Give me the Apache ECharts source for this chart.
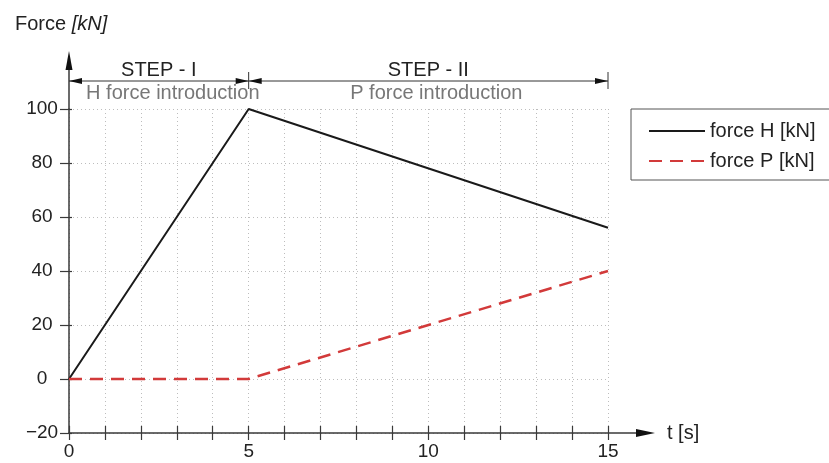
<!DOCTYPE html>
<html><head><meta charset="utf-8">
<script src="https://cdn.jsdelivr.net/npm/echarts@6/dist/echarts.min.js"></script>
<style>html,body{margin:0;padding:0;background:#fff}#c{width:829px;height:463px}</style>
</head><body><div id="c"></div>
<script>
const tValues = [0, 5, 15];
const forceH = [0, 100, 56];
const forceP = [0, 0, 40];
const stepBounds = [0, 5, 15];
const stepTitles = ['STEP - I', 'STEP - II'];
const stepSubtitles = ['H force introduction', 'P force introduction'];
const seriesNames = ['force H [kN]', 'force P [kN]'];

const FONT = '"Liberation Sans", Arial, sans-serif';
const AX = '#3a3a3a';
const subtitleShift = [14, 8];
const chart = echarts.init(document.getElementById('c'));

chart.setOption({
  animation: false,
  textStyle: { fontFamily: FONT },
  grid: { left: 69, top: 109, width: 539, height: 324 },
  legend: {
    orient: 'vertical', left: 631, top: 109,
    borderColor: '#555', borderWidth: 1,
    padding: [12, 40, 9, 17],
    itemWidth: 56, itemHeight: 14, itemGap: 10,
    itemStyle: { opacity: 0 },
    textStyle: { fontSize: 20, color: '#222', fontFamily: FONT },
    data: seriesNames
  },
  xAxis: [{
    type: 'value', min: 0, max: 15, interval: 1,
    axisLine: { show: true, onZero: false, lineStyle: { color: AX, width: 1.5 } },
    axisTick: { show: true, length: 7, lineStyle: { color: AX, width: 1.2 } },
    axisLabel: { fontSize: 19, color: '#222', margin: 9,
      formatter: v => (v % 5 === 0 ? String(v) : '') },
    splitLine: { show: true, lineStyle: { color: '#bdbdbd', type: [1, 3], width: 1 } }
  }, {
    type: 'value', min: 0, max: 15, interval: 1, position: 'bottom',
    axisLine: { show: false, onZero: false },
    axisTick: { show: true, inside: true, length: 7, lineStyle: { color: AX, width: 1.2 } },
    axisLabel: { show: false }, splitLine: { show: false }
  }],
  yAxis: [{
    type: 'value', min: -20, max: 100, interval: 20,
    axisLine: { show: true, lineStyle: { color: AX, width: 1.5 } },
    axisTick: { show: true, length: 9, lineStyle: { color: AX, width: 1.2 } },
    axisLabel: { fontSize: 19, color: '#222', margin: 27, align: 'center',
      formatter: v => (v < 0 ? '\u2212' + Math.abs(v) : String(v)) },
    splitLine: { show: true, lineStyle: { color: '#bdbdbd', type: [1, 3], width: 1 } }
  }, {
    type: 'value', min: -20, max: 100, interval: 20, position: 'left',
    axisLine: { show: false },
    axisTick: { show: true, inside: true, length: 3, lineStyle: { color: AX, width: 1.2 } },
    axisLabel: { show: false }, splitLine: { show: false }
  }],
  series: [{
    name: seriesNames[0], type: 'line', symbol: 'none',
    data: tValues.map((t, i) => [t, forceH[i]]),
    lineStyle: { color: '#1a1a1a', width: 2 }, itemStyle: { color: '#1a1a1a' }, z: 3
  }, {
    name: seriesNames[1], type: 'line', symbol: 'none',
    data: tValues.map((t, i) => [t, forceP[i]]),
    lineStyle: { color: '#d23a3a', width: 2.5, type: [13, 8] }, itemStyle: { color: '#d23a3a' }, z: 3
  }]
});

function px(x, y) { return chart.convertToPixel({ gridIndex: 0 }, [x, y]); }
const g = [];
const o = px(0, -20);
const topP = px(0, 100);
// y-axis extension with arrow
g.push({ type: 'line', shape: { x1: o[0], y1: topP[1], x2: o[0], y2: 66 }, style: { stroke: AX, lineWidth: 1.5 } });
g.push({ type: 'polygon', shape: { points: [[o[0], 51], [o[0] - 3.5, 70], [o[0] + 3.5, 70]] }, style: { fill: '#111' } });
// x-axis extension with arrow
const endX = px(15, -20);
g.push({ type: 'line', shape: { x1: endX[0], y1: o[1], x2: 640, y2: o[1] }, style: { stroke: AX, lineWidth: 1.5 } });
g.push({ type: 'polygon', shape: { points: [[655, o[1]], [636, o[1] - 4], [636, o[1] + 4]] }, style: { fill: '#111' } });
g.push({ type: 'text', x: 667, y: o[1], style: { text: 't [s]', font: '20px ' + FONT, fill: '#222', textVerticalAlign: 'middle' } });
// y title
g.push({ type: 'text', x: 15, y: 24, style: {
  text: '{a|Force }{b|[kN]}', textVerticalAlign: 'middle',
  rich: { a: { fontSize: 20, fontFamily: FONT, fill: '#222' }, b: { fontSize: 20, fontFamily: FONT, fontStyle: 'italic', fill: '#222' } }
} });
// dimension lines
const dimY = 81;
for (let i = 0; i < stepTitles.length; i++) {
  const a = px(stepBounds[i], 0)[0];
  const b = px(stepBounds[i + 1], 0)[0];
  g.push({ type: 'line', shape: { x1: a, y1: dimY, x2: b, y2: dimY }, style: { stroke: '#333', lineWidth: 1 } });
  g.push({ type: 'polygon', shape: { points: [[a, dimY], [a + 13, dimY - 3], [a + 13, dimY + 3]] }, style: { fill: '#111' } });
  g.push({ type: 'polygon', shape: { points: [[b, dimY], [b - 13, dimY - 3], [b - 13, dimY + 3]] }, style: { fill: '#111' } });
  g.push({ type: 'line', shape: { x1: b, y1: 72, x2: b, y2: 89 }, style: { stroke: '#333', lineWidth: 1 } });
  g.push({ type: 'text', x: (a + b) / 2, y: 70, style: { text: stepTitles[i], font: '20px ' + FONT, fill: '#222', textAlign: 'center', textVerticalAlign: 'middle' } });
  g.push({ type: 'text', x: (a + b) / 2 + subtitleShift[i], y: 93, style: { text: stepSubtitles[i], font: '20px ' + FONT, fill: '#777', textAlign: 'center', textVerticalAlign: 'middle' } });
}
chart.setOption({ graphic: g });
</script></body></html>
